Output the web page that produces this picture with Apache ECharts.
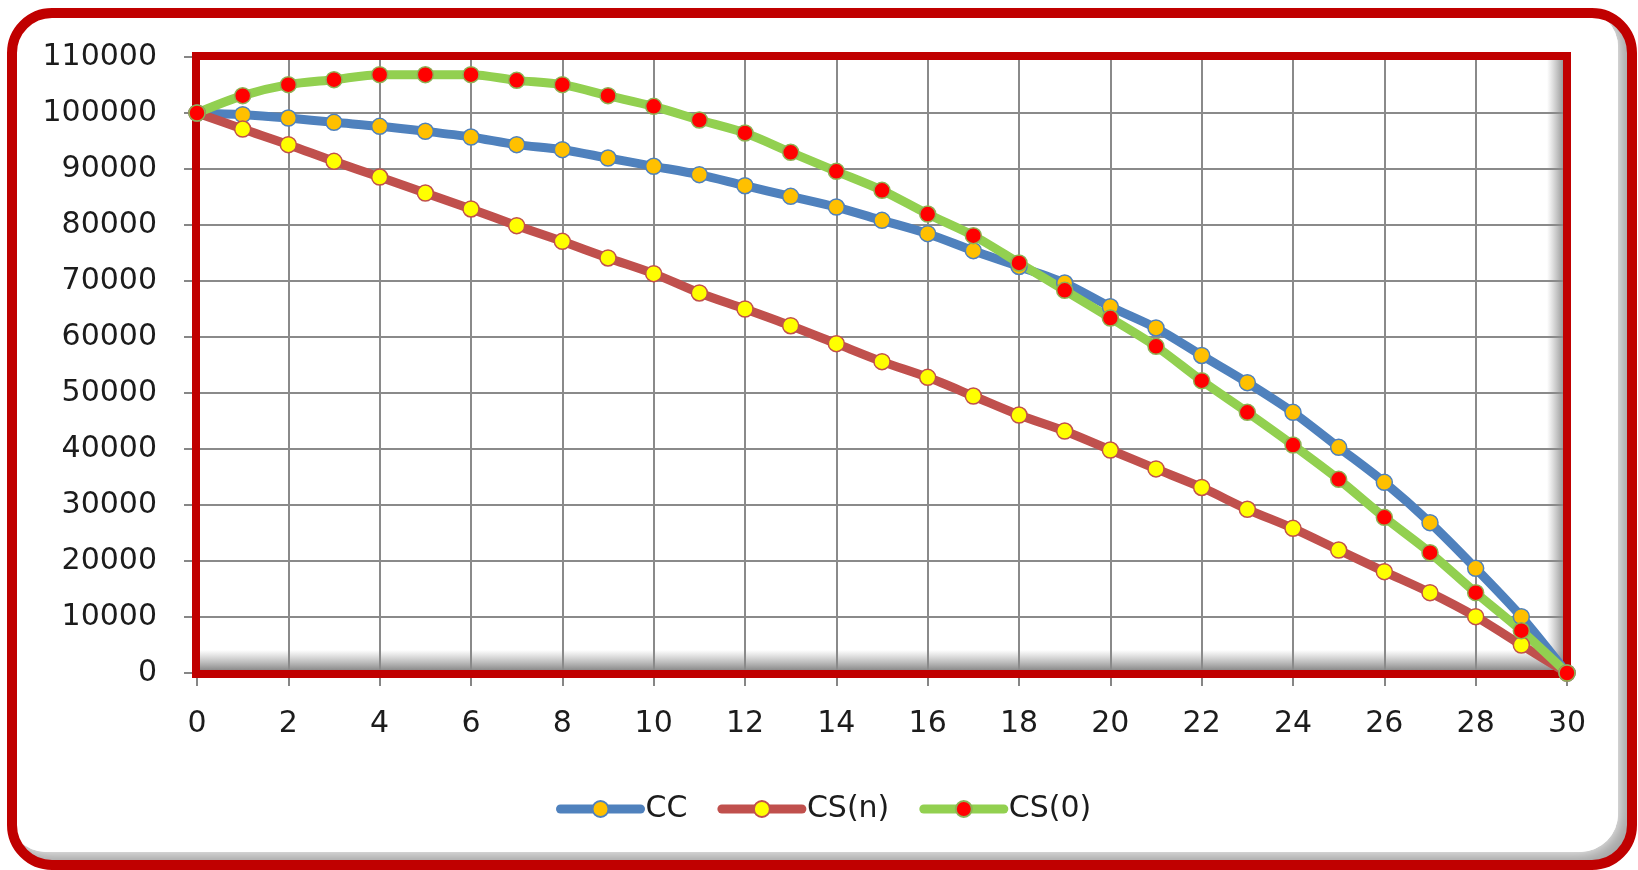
<!DOCTYPE html>
<html>
<head>
<meta charset="utf-8">
<script src="https://cdn.jsdelivr.net/npm/echarts@6/dist/echarts.min.js"></script>
<style>
html,body{margin:0;padding:0;background:#ffffff;}
#chart{width:1638px;height:870px;}
</style>
</head>
<body>
<div id="chart"></div>
<script>
// ---- data ----
const periods = [0,1,2,3,4,5,6,7,8,9,10,11,12,13,14,15,16,17,18,19,20,21,22,23,24,25,26,27,28,29,30];
const seriesNames = ['CC', 'CS(n)', 'CS(0)'];
const ccValues = [100000, 99700, 99100, 98330, 97620, 96730, 95710, 94350, 93450, 91960, 90480, 88990, 87020, 85120, 83210, 80830, 78450, 75420, 72600, 69640, 65400, 61610, 56700, 51850, 46550, 40300, 34050, 26850, 18690, 10060, 0];
const csnValues = [100000, 97140, 94350, 91370, 88570, 85710, 82860, 79880, 77080, 74110, 71310, 67860, 65000, 62020, 58810, 55600, 52800, 49460, 46070, 43210, 39820, 36450, 33130, 29230, 25830, 21960, 18100, 14350, 10060, 5000, 0];
const cs0Values = [100000, 103100, 105060, 105950, 106850, 106850, 106850, 105830, 105060, 103100, 101190, 98750, 96430, 92980, 89580, 86190, 81960, 78100, 73220, 68330, 63390, 58330, 52200, 46550, 40710, 34580, 27800, 21490, 14350, 7560, 0];

const pairs = vals => periods.map((p, i) => [p, vals[i]]);

const FONT = 'DejaVu Sans';
const TXT = '#1c1c1c';
const RED = '#C00000';

const chart = echarts.init(document.getElementById('chart'), null, {renderer: 'canvas'});

function lineSeries(name, vals, lineColor, fill, border) {
  return {
    name: name,
    type: 'line',
    data: pairs(vals),
    smooth: 0.3,
    symbol: 'circle',
    symbolSize: 16,
    lineStyle: {color: lineColor, width: 9, cap: 'round', join: 'round'},
    itemStyle: {color: fill, borderColor: border, borderWidth: 1.5},
    emphasis: {disabled: true},
    z: 3
  };
}

chart.setOption({
  animation: false,
  backgroundColor: '#ffffff',
  grid: {left: 197, right: 71, top: 57, bottom: 197, containLabel: false, show: false},
  xAxis: {
    type: 'value', min: 0, max: 30, interval: 2,
    axisLine: {show: false},
    axisTick: {show: true, length: 13, lineStyle: {color: '#868686', width: 2}},
    axisLabel: {color: TXT, fontFamily: FONT, fontSize: 30, margin: 51, verticalAlign: 'middle'},
    splitLine: {show: true, lineStyle: {color: '#8a8a8a', width: 2}}
  },
  yAxis: {
    type: 'value', min: 0, max: 110000, interval: 10000,
    axisLine: {show: false},
    axisTick: {show: true, length: 13, lineStyle: {color: '#868686', width: 2}},
    axisLabel: {color: TXT, fontFamily: FONT, fontSize: 30, margin: 40, formatter: v => String(v)},
    splitLine: {show: true, lineStyle: {color: '#8a8a8a', width: 2}}
  },
  legend: {
    data: seriesNames,
    left: 556, top: 794, padding: 0,
    itemWidth: 80, itemHeight: 20, itemGap: 30,
    lineStyle: {width: 9, cap: 'round'},
    textStyle: {color: TXT, fontFamily: FONT, fontSize: 30},
    selectedMode: false
  },
  graphic: [
    // outer frame inner shadow base
    {type: 'rect', z: -20, silent: true,
     shape: {x: 12, y: 13, width: 1620, height: 852, r: 40},
     style: {fill: '#a6a6a6'}},
    {type: 'rect', z: -19, silent: true,
     shape: {x: 8, y: 9, width: 1610, height: 843, r: 38},
     style: {fill: '#ffffff', shadowBlur: 16, shadowColor: '#ffffff'}},
    {type: 'rect', z: -18, silent: true,
     shape: {x: 8, y: 9, width: 1610, height: 843, r: 38},
     style: {fill: '#ffffff'}},
    // plot area inner shadows
    {type: 'rect', z: -1, silent: true,
     shape: {x: 197, y: 650, width: 1370, height: 20},
     style: {fill: new echarts.graphic.LinearGradient(0, 0, 0, 1, [
       {offset: 0, color: 'rgba(140,140,140,0)'},
       {offset: 1, color: 'rgba(120,120,120,0.85)'}])}},
    {type: 'rect', z: -1, silent: true,
     shape: {x: 1547, y: 57, width: 18, height: 616},
     style: {fill: new echarts.graphic.LinearGradient(0, 0, 1, 0, [
       {offset: 0, color: 'rgba(140,140,140,0)'},
       {offset: 1, color: 'rgba(120,120,120,0.85)'}])}},
    // plot border
    {type: 'rect', z: 1, silent: true,
     shape: {x: 196, y: 56, width: 1371, height: 618},
     style: {fill: null, stroke: RED, lineWidth: 8}},
    // outer frame border
    {type: 'rect', z: 10, silent: true,
     shape: {x: 12, y: 13, width: 1620, height: 852, r: 40},
     style: {fill: null, stroke: RED, lineWidth: 10}}
  ],
  series: [
    lineSeries(seriesNames[0], ccValues, '#4F81BD', '#FFC000', '#4F81BD'),
    lineSeries(seriesNames[1], csnValues, '#C0504D', '#FFFF00', '#C0504D'),
    lineSeries(seriesNames[2], cs0Values, '#92D050', '#FF0000', '#8DB255')
  ]
});
</script>
</body>
</html>
